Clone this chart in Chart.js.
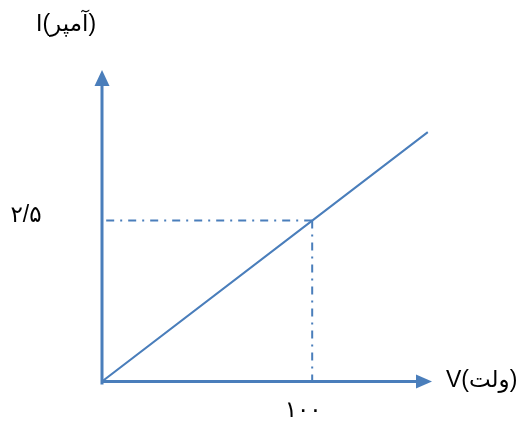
<!DOCTYPE html>
<html>
<head>
<meta charset="utf-8">
<script src="https://cdn.jsdelivr.net/npm/chart.js@4.4.1/dist/chart.umd.min.js"></script>
<style>
  html, body { margin: 0; padding: 0; background: #fff; }
  #wrap { position: relative; width: 528px; height: 421px; }
</style>
</head>
<body>
<div id="wrap"><canvas id="chart"></canvas></div>
<script>
// data
const voltage = [0, 100, 155];
const current = [0, 2.5, 3.875];
const markV = 100;
const markI = 2.5;
const xTickLabels = ["۱۰۰"];
const yTickLabels = ["۲/۵"];
const xTitle = "V(ولت)";
const yTitle = "I(آمپر)";
const xMax = 157;
const yMax = 4.84;

const blue = "#4a7ebb";
const font = "23px 'Liberation Sans', Arial, 'DejaVu Sans', sans-serif";

// axes with arrow heads + the text labels
const axesPlugin = {
  id: "axesArrows",
  afterDatasetsDraw(chart) {
    const { ctx } = chart;
    const xs = chart.scales.x, ys = chart.scales.y;
    const x0 = xs.getPixelForValue(0), y0 = ys.getPixelForValue(0);
    const xEnd = xs.getPixelForValue(xMax), yEnd = ys.getPixelForValue(yMax);

    ctx.save();
    ctx.strokeStyle = blue;
    ctx.fillStyle = blue;
    ctx.lineWidth = 3;
    ctx.beginPath();
    ctx.moveTo(x0, y0 + 3);
    ctx.lineTo(x0, yEnd + 10);
    ctx.moveTo(x0 - 1, y0);
    ctx.lineTo(xEnd - 10, y0);
    ctx.stroke();

    // arrow heads
    ctx.beginPath();
    ctx.moveTo(x0, yEnd);
    ctx.lineTo(x0 - 7.5, yEnd + 16);
    ctx.lineTo(x0 + 7.5, yEnd + 16);
    ctx.closePath();
    ctx.fill();
    ctx.beginPath();
    ctx.moveTo(xEnd, y0);
    ctx.lineTo(xEnd - 16, y0 - 7);
    ctx.lineTo(xEnd - 16, y0 + 7);
    ctx.closePath();
    ctx.fill();

    // texts
    ctx.fillStyle = "#000";
    ctx.font = font;
    ctx.direction = "ltr";
    ctx.textBaseline = "middle";
    ctx.textAlign = "left";
    ctx.fillText(yTitle, 36, 25);
    ctx.fillText(xTitle, xEnd + 14, y0 - 1);
    ctx.textAlign = "center";
    ctx.fillText(yTickLabels[0], 26, ys.getPixelForValue(markI) - 5);
    ctx.fillText(xTickLabels[0], xs.getPixelForValue(markV) - 9, y0 + 29);
    ctx.restore();
  }
};

new Chart(document.getElementById("chart"), {
  type: "scatter",
  data: {
    datasets: [
      {
        data: voltage.map((v, i) => ({ x: v, y: current[i] })),
        showLine: true,
        borderColor: blue,
        borderWidth: 2,
        pointRadius: 0
      },
      {
        data: [{ x: markV, y: markI }, { x: 0, y: markI }],
        showLine: true,
        borderColor: blue,
        borderWidth: 2,
        borderDash: [8, 6, 2, 6],
        pointRadius: 0
      },
      {
        data: [{ x: markV, y: markI }, { x: markV, y: 0 }],
        showLine: true,
        borderColor: blue,
        borderWidth: 2,
        borderDash: [8, 6, 2, 6],
        pointRadius: 0
      }
    ]
  },
  options: {
    responsive: true,
    maintainAspectRatio: false,
    animation: false,
    layout: { padding: { left: 102, right: 96, top: 70, bottom: 39.5 } },
    plugins: { legend: { display: false }, tooltip: { enabled: false } },
    scales: {
      x: { type: "linear", min: 0, max: xMax, display: false },
      y: { type: "linear", min: 0, max: yMax, display: false }
    }
  },
  plugins: [axesPlugin]
});
</script>
</body>
</html>
